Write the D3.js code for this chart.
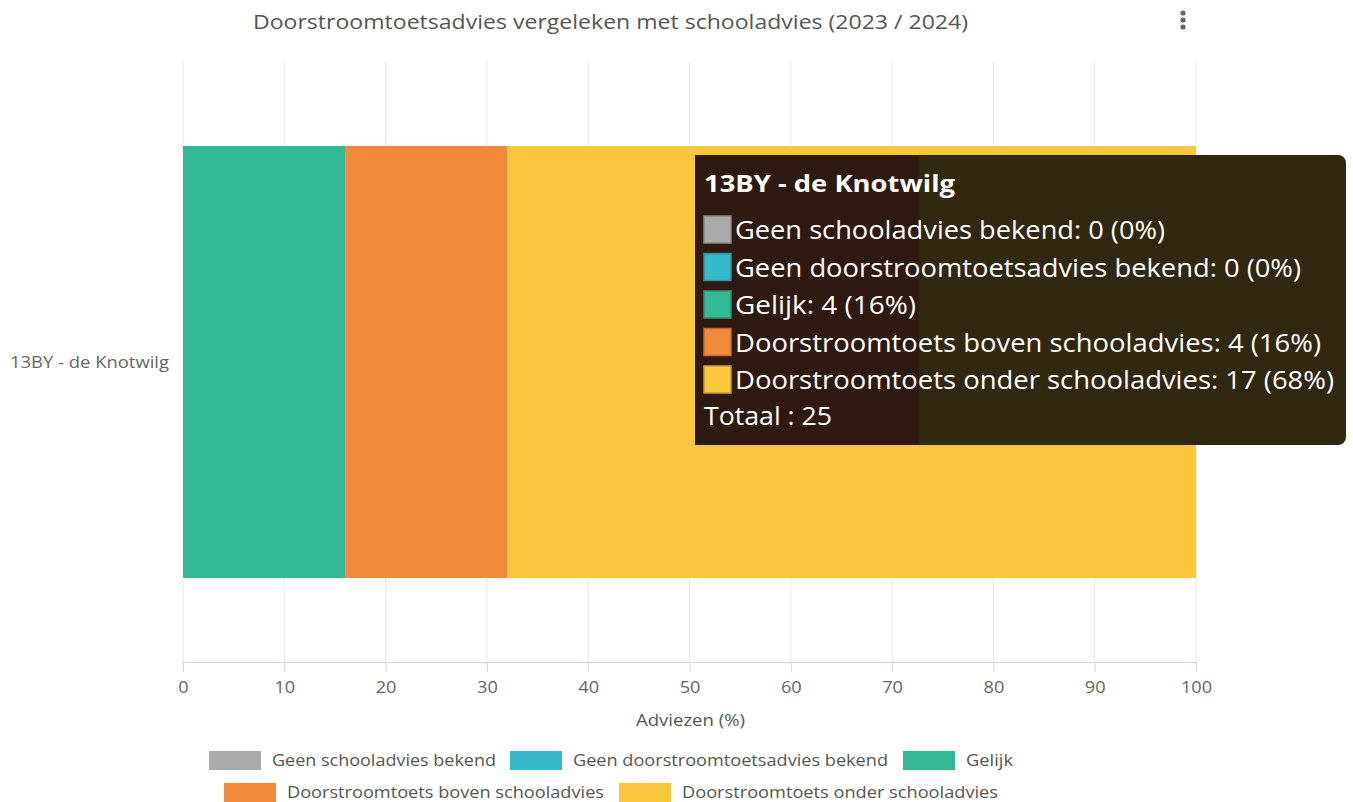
<!DOCTYPE html>
<html>
<head>
<meta charset="utf-8">
<script src="https://cdn.jsdelivr.net/npm/d3@7"></script>
<style>
  body { margin: 0; background: #fff; }
  svg { font-family: "Open Sans", "Noto Sans", sans-serif; display: block; }
</style>
</head>
<body>
<svg id="chart" width="1353" height="802"></svg>
<script>
const schools = ["13BY - de Knotwilg"];
const seriesNames = [
  "Geen schooladvies bekend",
  "Geen doorstroomtoetsadvies bekend",
  "Gelijk",
  "Doorstroomtoets boven schooladvies",
  "Doorstroomtoets onder schooladvies"
];
const seriesCounts = [0, 0, 4, 4, 17];
const seriesColors = ["#aaaaaa", "#36b9c9", "#33b995", "#f28a3c", "#f9c63c"];
const xTicks = [0, 10, 20, 30, 40, 50, 60, 70, 80, 90, 100];

const total = d3.sum(seriesCounts);
const pct = seriesCounts.map(c => c / total * 100);

const svg = d3.select("#chart");
const margin = { left: 183, right: 157, top: 62, bottom: 140 };
const W = +svg.attr("width"), H = +svg.attr("height");

const x = d3.scaleLinear().domain([0, 100]).range([margin.left, W - margin.right]);
const y = d3.scaleBand().domain(schools).range([margin.top, H - margin.bottom]).paddingInner(0.28).paddingOuter(0.14);

// the reference font runs wider than Open Sans, so long strings get stretched to its widths
function fit(sel, w) {
  return sel.attr("textLength", w).attr("lengthAdjust", "spacingAndGlyphs");
}

// title
fit(svg.append("text")
  .attr("x", 253).attr("y", 29)
  .attr("fill", "#555").attr("font-size", 20.5)
  .text("Doorstroomtoetsadvies vergeleken met schooladvies (2023 / 2024)"), 715);

// menu dots
svg.selectAll(".dot").data([0, 1, 2]).enter().append("circle")
  .attr("cx", 1183).attr("cy", d => 13 + d * 7).attr("r", 2.6).attr("fill", "#666");

// grid
svg.append("g").selectAll("line").data(xTicks).enter().append("line")
  .attr("x1", d => x(d)).attr("x2", d => x(d))
  .attr("y1", margin.top).attr("y2", H - margin.bottom)
  .attr("stroke", "#e6e6e6");

// bottom axis
const xAxis = svg.append("g")
  .attr("transform", `translate(0,${H - margin.bottom})`)
  .call(d3.axisBottom(x).tickValues(xTicks).tickSize(10).tickPadding(9));
xAxis.select(".domain").attr("stroke", "#ccd6eb");
xAxis.selectAll(".tick line").attr("stroke", "#ccd6eb");
xAxis.selectAll(".tick text").attr("fill", "#666").attr("font-size", 16.5).attr("font-family", "Open Sans")
  .attr("transform", "scale(1.1,1)");

fit(svg.append("text")
  .attr("x", 636).attr("y", 726)
  .attr("fill", "#555").attr("font-size", 16.5)
  .text("Adviezen (%)"), 109);

// category label
fit(svg.append("text")
  .attr("x", 10).attr("y", y(schools[0]) + y.bandwidth() / 2 + 6)
  .attr("fill", "#666").attr("font-size", 16.5)
  .text(schools[0]), 159);

// stacked bars
const stackData = [Object.fromEntries(seriesNames.map((s, i) => [s, pct[i]]))];
const stacked = d3.stack().keys(seriesNames)(stackData);
svg.append("g").selectAll("rect").data(stacked).enter().append("rect")
  .attr("x", d => x(d[0][0]))
  .attr("width", d => x(d[0][1]) - x(d[0][0]))
  .attr("y", y(schools[0]))
  .attr("height", y.bandwidth())
  .attr("fill", (d, i) => seriesColors[i]);

// legend
const legendRows = [[0, 1, 2], [3, 4]];
const legendPos = [[209, 510, 903], [224, 619]];
const legendTextW = [224, 315, 47, 317, 316];
const legendY = [751, 783];
legendRows.forEach((row, r) => {
  row.forEach((si, k) => {
    const g = svg.append("g").attr("transform", `translate(${legendPos[r][k]},${legendY[r]})`);
    g.append("rect").attr("width", 52).attr("height", 19).attr("fill", seriesColors[si]);
    fit(g.append("text").attr("x", 63).attr("y", 15).attr("fill", "#555").attr("font-size", 17)
      .text(seriesNames[si]), legendTextW[si]);
  });
});

// tooltip
const tipTextW = [430, 566, 181, 586, 599];
const tip = svg.append("g").attr("transform", "translate(695,155)");
tip.append("rect").attr("width", 651).attr("height", 290).attr("rx", 8).attr("fill", "#30280f");
tip.append("rect").attr("width", 224).attr("height", 290).attr("fill", "#2e1a10");
fit(tip.append("text").attr("x", 9).attr("y", 37).attr("fill", "#fff").attr("font-size", 24).attr("font-weight", "bold")
  .text(schools[0]), 251);
seriesNames.forEach((s, i) => {
  const ty = 74 + i * 37.5;
  tip.append("rect").attr("x", 9).attr("y", ty - 13).attr("width", 27).attr("height", 27)
    .attr("fill", seriesColors[i]).attr("stroke", d3.color(seriesColors[i]).darker(0.6)).attr("stroke-width", 1.5);
  fit(tip.append("text").attr("x", 40).attr("y", ty + 10).attr("fill", "#fff").attr("font-size", 25)
    .text(`${s}: ${seriesCounts[i]} (${Math.round(pct[i])}%)`), tipTextW[i]);
});
fit(tip.append("text").attr("x", 9).attr("y", 270).attr("fill", "#fff").attr("font-size", 25)
  .text(`Totaal : ${total}`), 128);
</script>
</body>
</html>
